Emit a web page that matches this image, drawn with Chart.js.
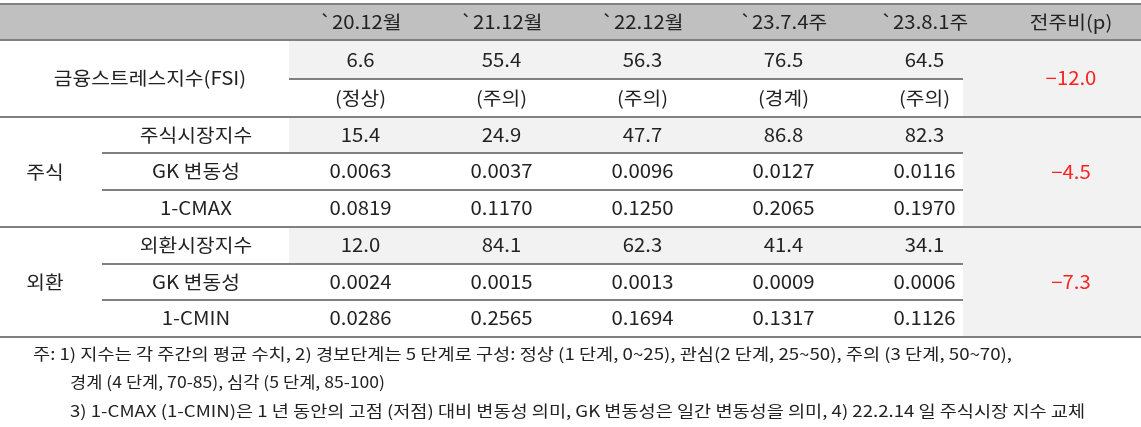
<!DOCTYPE html>
<html><head><meta charset="utf-8">
<script src="https://cdn.jsdelivr.net/npm/chart.js@4/dist/chart.umd.min.js"></script>
<style>html,body{margin:0;padding:0;background:#fff}#w{width:1141px;height:427px}</style>
</head><body><div id="w"><canvas id="c"></canvas></div>
<script>
const columns = ["`20.12월","`21.12월","`22.12월","`23.7.4주","`23.8.1주"];
const changeHeader = "전주비(p)";
const fsiValues = ["6.6","55.4","56.3","76.5","64.5"];
const fsiStages = ["(정상)","(주의)","(주의)","(경계)","(주의)"];
const stockLabels = ["주식시장지수","GK 변동성","1-CMAX"];
const stockIndex = ["15.4","24.9","47.7","86.8","82.3"];
const stockGK = ["0.0063","0.0037","0.0096","0.0127","0.0116"];
const stockCMAX = ["0.0819","0.1170","0.1250","0.2065","0.1970"];
const fxLabels = ["외환시장지수","GK 변동성","1-CMIN"];
const fxIndex = ["12.0","84.1","62.3","41.4","34.1"];
const fxGK = ["0.0024","0.0015","0.0013","0.0009","0.0006"];
const fxCMIN = ["0.0286","0.2565","0.1694","0.1317","0.1126"];
const changes = ["-12.0","-4.5","-7.3"];
const notes = ["주: 1) 지수는 각 주간의 평균 수치, 2) 경보단계는 5 단계로 구성: 정상 (1 단계, 0~25), 관심(2 단계, 25~50), 주의 (3 단계, 50~70),",
"경계 (4 단계, 70-85), 심각 (5 단계, 85-100)",
"3) 1-CMAX (1-CMIN)은 1 년 동안의 고점 (저점) 대비 변동성 의미, GK 변동성은 일간 변동성을 의미, 4) 22.2.14 일 주식시장 지수 교체"];

const F = '"Noto Sans CJK KR","Noto Sans",sans-serif';
const tablePlugin = {
  id:'table',
  afterDraw(chart){
    const ctx = chart.ctx, xs = chart.scales.x;
    const X = i => xs.getPixelForValue(i);
    const W = chart.width, chgX = 1071, colL = 289, colR = 963;
    ctx.save();
    ctx.fillStyle = '#c0c0c0'; ctx.fillRect(0,4,W,36);
    ctx.fillStyle = '#f2f2f2';
    [[40,79],[117,153],[227,264]].forEach(([a,b])=>ctx.fillRect(colL,a,colR-colL,b-a));
    [[40,117],[117,227],[227,337]].forEach(([a,b])=>ctx.fillRect(colR,a,W-colR,b-a));
    ctx.strokeStyle = '#808080'; ctx.lineWidth = 2;
    const hl=(y,a,b)=>{ctx.beginPath();ctx.moveTo(a,y);ctx.lineTo(b,y);ctx.stroke();};
    hl(4,0,W); hl(40,0,W); hl(117,0,W); hl(227,0,W); hl(337,0,W);
    hl(79,colL,colR); hl(153,102,colR); hl(190,102,colR); hl(264,102,colR); hl(300,102,colR);
    ctx.textAlign='center'; ctx.textBaseline='middle';
    ctx.font = '18.5px '+F; ctx.fillStyle='#222';
    // draw text stretched horizontally by factor sx
    const t=(s,x,y,sx=1.1)=>{ctx.save();ctx.translate(x,y);ctx.scale(sx,1);ctx.fillText(s,0,0);ctx.restore();};
    columns.forEach((c,i)=>t(c,X(i),22));
    t(changeHeader,chgX,22);
    t("금융스트레스지수(FSI)",150,78);
    t("주식",45,172); t("외환",45,282);
    stockLabels.forEach((s,i)=>t(s,196,[135,171,208][i]));
    fxLabels.forEach((s,i)=>t(s,196,[245,282,318][i]));
    const rows=[[fsiValues,60],[fsiStages,98],[stockIndex,135],[stockGK,171],[stockCMAX,208],[fxIndex,245],[fxGK,282],[fxCMIN,318]];
    rows.forEach(([arr,y])=>arr.forEach((v,i)=>t(v,X(i),y)));
    ctx.fillStyle='#ff2020';
    changes.forEach((v,i)=>t(v.replace('-','−'),chgX,[78,172,282][i]));
    ctx.fillStyle='#222'; ctx.textAlign='left'; ctx.font='16px '+F;
    const fit=(s,x,y,x2)=>{const w=ctx.measureText(s).width;ctx.save();ctx.translate(x,y);ctx.scale((x2-x)/w,1);ctx.fillText(s,0,0);ctx.restore();};
    fit(notes[0],33,354,1012); fit(notes[1],70,382,385); fit(notes[2],70,411,1085);
    ctx.restore();
  }
};
new Chart(document.getElementById('c'),{
  type:'scatter',
  data:{labels:columns,datasets:[{data:[],showLine:false}]},
  options:{responsive:true,maintainAspectRatio:false,animation:false,
    layout:{padding:{left:290,right:146,top:0,bottom:0}},
    plugins:{legend:{display:false},tooltip:{enabled:false}},
    scales:{x:{type:'category',labels:columns,offset:true,display:false},y:{display:false,min:0,max:1}}},
  plugins:[tablePlugin]
});
</script></body></html>
